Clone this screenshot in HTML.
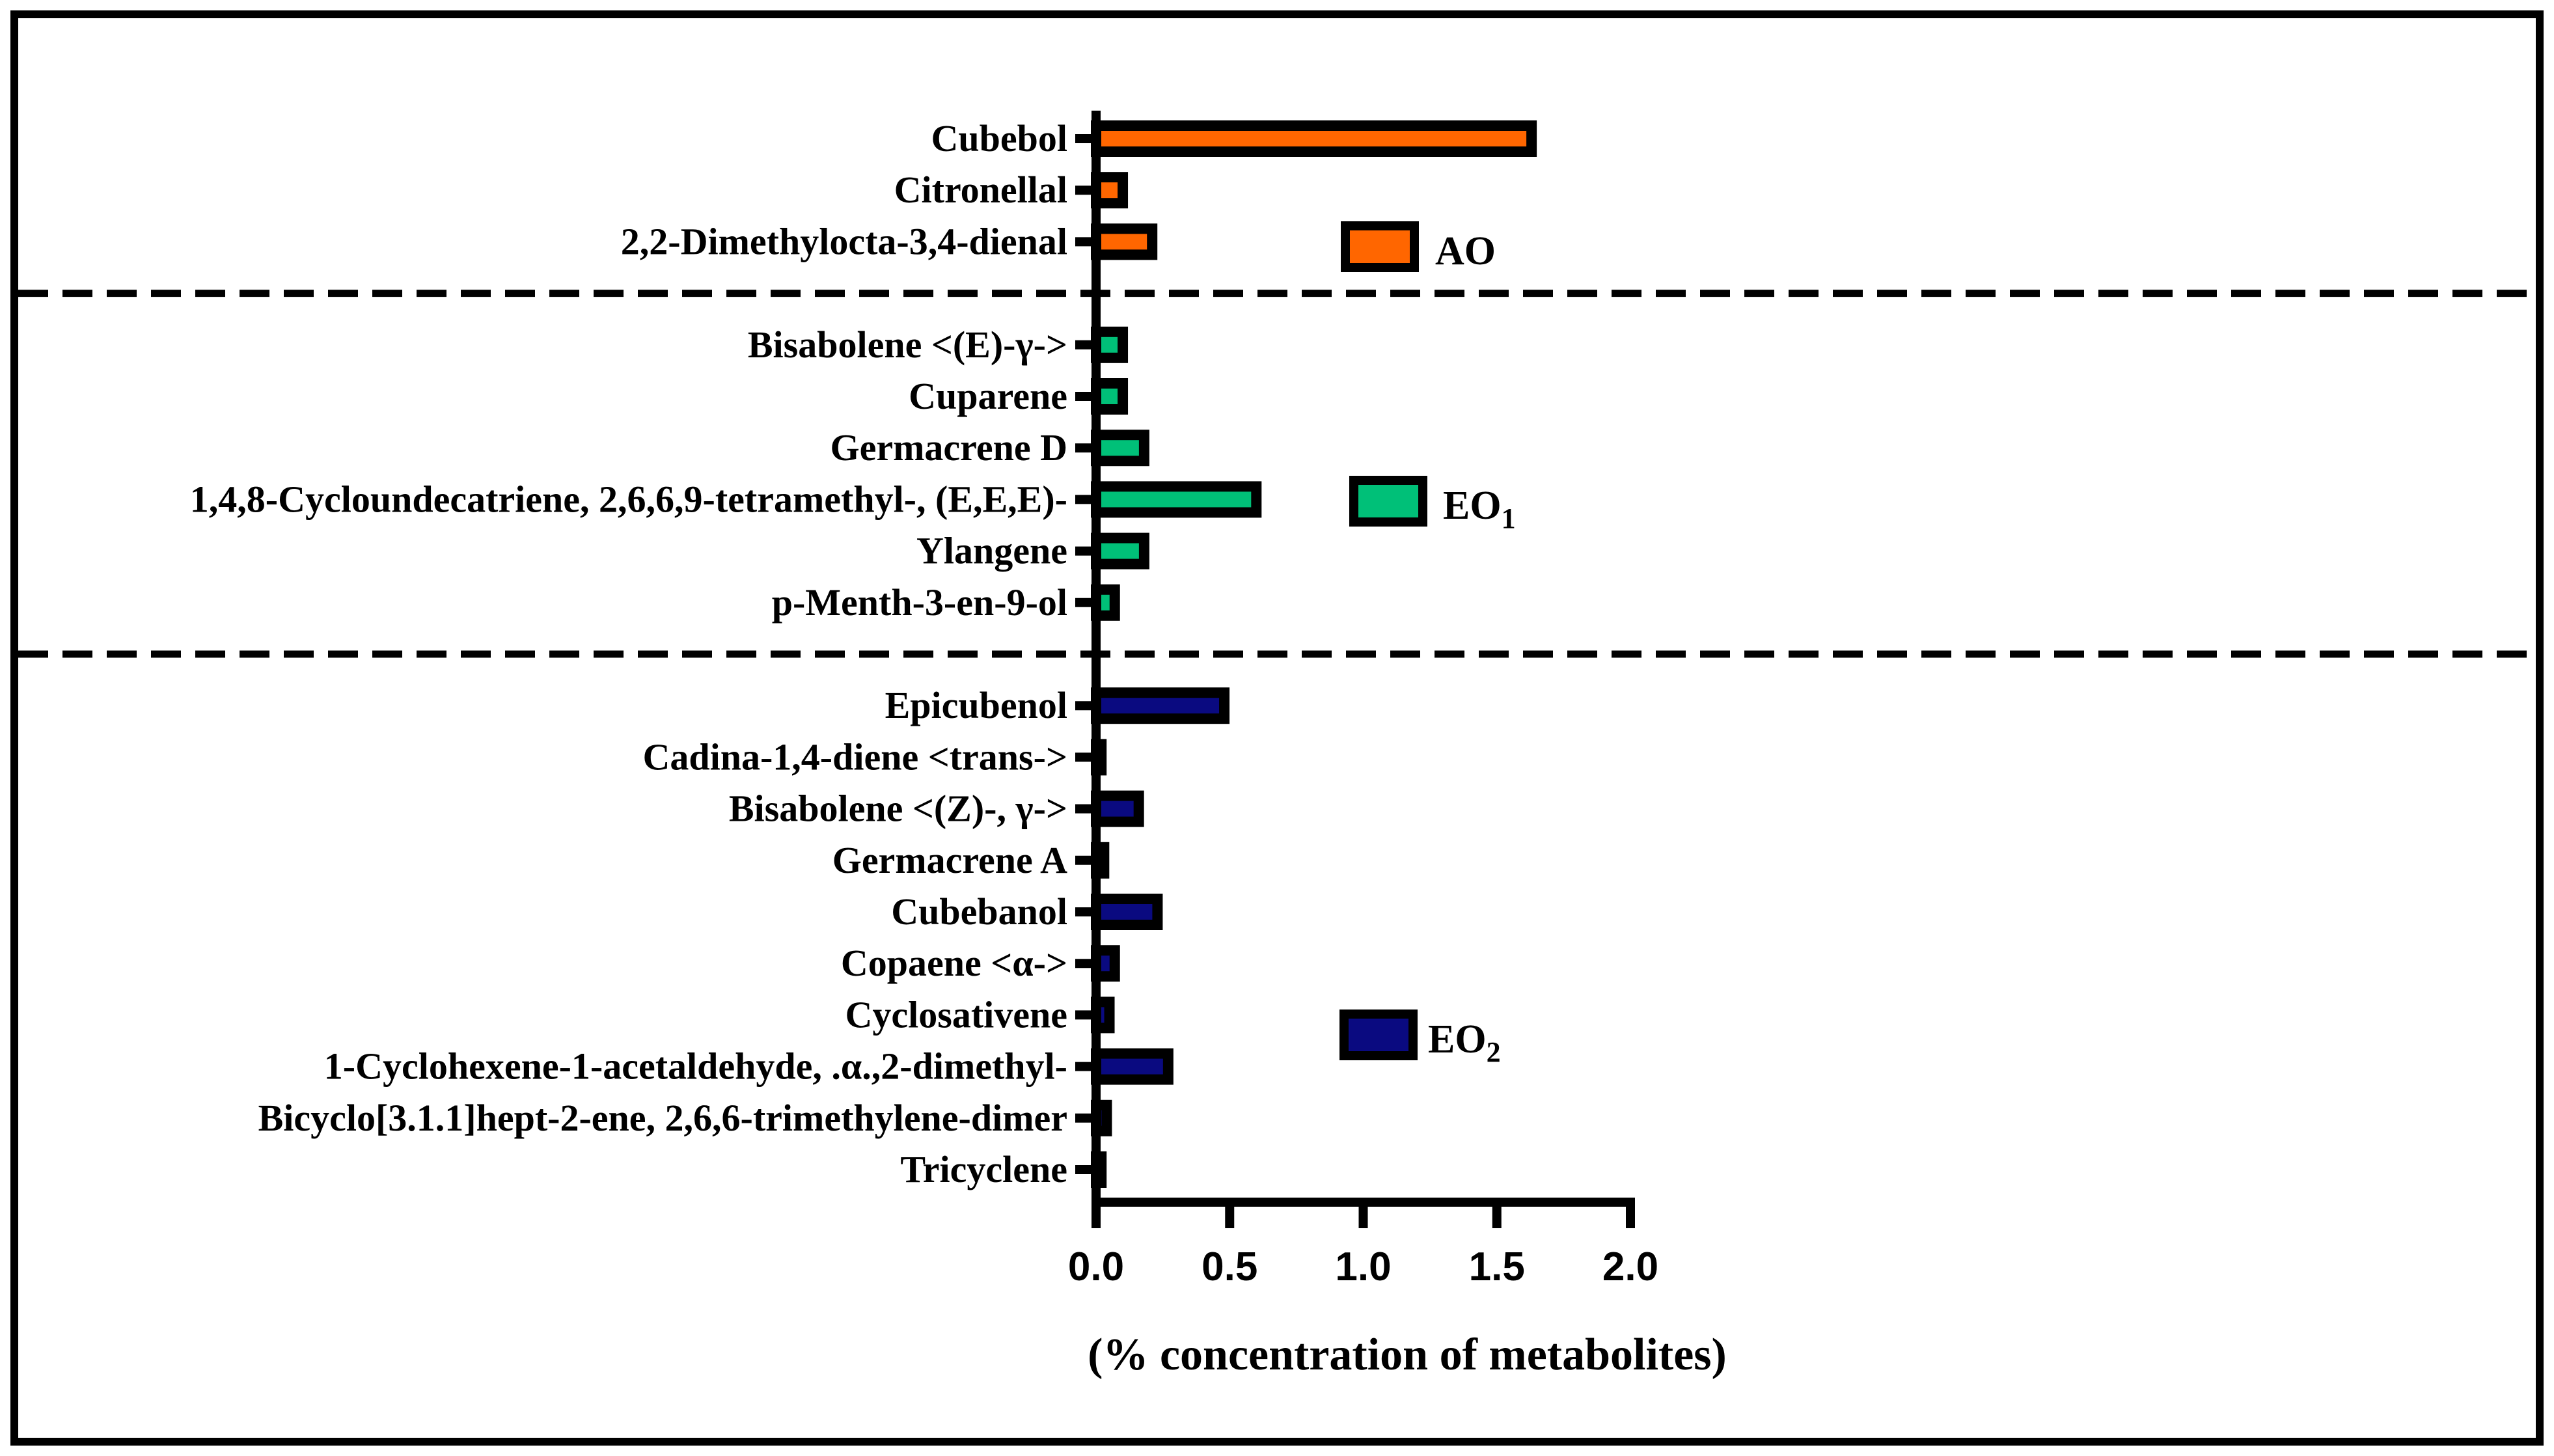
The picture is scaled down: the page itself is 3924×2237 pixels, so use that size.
<!DOCTYPE html>
<html><head><meta charset="utf-8"><style>
html,body{margin:0;padding:0;background:#fff}
svg{display:block}
</style></head><body>
<svg id="chart" width="3924" height="2237" viewBox="0 0 3924 2237" xmlns="http://www.w3.org/2000/svg">
<rect x="22" y="22" width="3880" height="2193" fill="#fff" stroke="#000" stroke-width="12"/>
<g id="plot"></g>
</svg>
<script>
const categories = ["Cubebol","Citronellal","2,2-Dimethylocta-3,4-dienal",null,"Bisabolene <(E)-\u03b3->","Cuparene","Germacrene D","1,4,8-Cycloundecatriene, 2,6,6,9-tetramethyl-, (E,E,E)-","Ylangene","p-Menth-3-en-9-ol",null,"Epicubenol","Cadina-1,4-diene <trans->","Bisabolene <(Z)-, \u03b3->","Germacrene A","Cubebanol","Copaene <\u03b1->","Cyclosativene","1-Cyclohexene-1-acetaldehyde, .\u03b1.,2-dimethyl-","Bicyclo[3.1.1]hept-2-ene, 2,6,6-trimethylene-dimer","Tricyclene"];
const values = [1.63,0.1,0.21,null,0.1,0.1,0.18,0.6,0.18,0.07,null,0.48,0.02,0.16,0.03,0.23,0.07,0.05,0.27,0.04,0.02];
const groups = ["AO","AO","AO",null,"EO1","EO1","EO1","EO1","EO1","EO1",null,"EO2","EO2","EO2","EO2","EO2","EO2","EO2","EO2","EO2","EO2"];
const xTicks = [0,0.5,1,1.5,2];
const xTickLabels = ["0.0","0.5","1.0","1.5","2.0"];
const groupColors = {AO:"#FF6600",EO1:"#00C078",EO2:"#0A0A80"};

const NS="http://www.w3.org/2000/svg";
const g=document.getElementById('plot');
const X0=1684, XU=410.5, Y0=213, STEP=79.2, XAXY=1847;
const xs=v=>X0+v*XU;
const ys=i=>Y0+i*STEP;
function mk(t,a){const e=document.createElementNS(NS,t);for(const k in a)e.setAttribute(k,a[k]);g.appendChild(e);return e;}
const serif='"Liberation Serif", serif';

categories.forEach((c,i)=>{
  if(c===null){
    const l=mk('line',{x1:28,x2:3896,y1:ys(i),y2:ys(i),stroke:'#000','stroke-width':11,'stroke-dasharray':'46 22'});
    
    
  }
});
const ya=mk('line',{x1:X0,x2:X0,y1:170,y2:XAXY+7,stroke:'#000','stroke-width':14});


categories.forEach((c,i)=>{
  if(c===null)return;
  const y=ys(i);
  const t=mk('line',{x1:X0-32,x2:X0,y1:y,y2:y,stroke:'#000','stroke-width':14});
  
  
  const lb=mk('text',{x:X0-44,y:y+19,'text-anchor':'end','font-family':serif,'font-weight':'bold','font-size':58});
  lb.textContent=c;
  
  
  const w=Math.max(xs(values[i])-X0,1);
  const b=mk('rect',{x:X0,y:y-20,width:w,height:40,fill:groupColors[groups[i]],stroke:'#000','stroke-width':16});
  
  
});
const xa=mk('line',{x1:X0-7,x2:xs(2)+7,y1:XAXY,y2:XAXY,stroke:'#000','stroke-width':14});


xTicks.forEach((v,k)=>{
  const t=mk('line',{x1:xs(v),x2:xs(v),y1:XAXY,y2:XAXY+40,stroke:'#000','stroke-width':14});
  
  
  const l=mk('text',{x:xs(v),y:1967,'text-anchor':'middle','font-family':'"Liberation Sans", sans-serif','font-weight':'bold','font-size':62});
  l.textContent=xTickLabels[k];
  
  
});
const xt=mk('text',{x:2162,y:2104,'text-anchor':'middle','font-family':serif,'font-weight':'bold','font-size':70});
xt.textContent='(% concentration of metabolites)';


const legend=[["AO",2060,340,2205],["EO1",2073,731,2217],["EO2",2058,1551,2194]];
legend.forEach(([k,bx,by,tx])=>{
  const r=mk('rect',{x:bx+7,y:by+7,width:106,height:64,fill:groupColors[k],stroke:'#000','stroke-width':14});
  
  
  const t=mk('text',{x:tx,y:by+66,'font-family':serif,'font-weight':'bold','font-size':62});
  
  
  if(k==="AO"){t.textContent="AO";}
  else{
    const a=document.createElementNS(NS,'tspan');a.textContent="EO";t.appendChild(a);
    const s=document.createElementNS(NS,'tspan');s.setAttribute('dy','14');s.setAttribute('font-size','44');s.textContent=k.slice(2);t.appendChild(s);
  }
});
</script>
</body></html>
